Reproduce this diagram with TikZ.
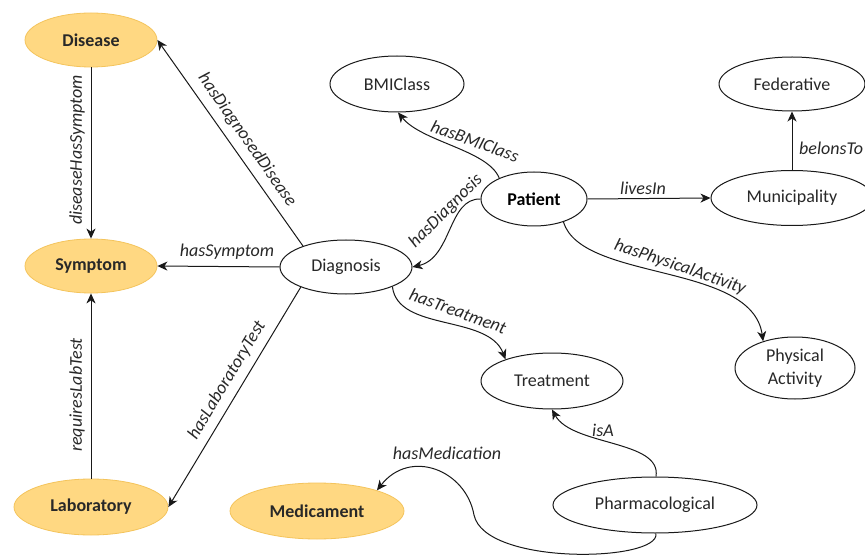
\documentclass[tikz,border=0pt]{standalone}
\usepackage{fontspec}
\setmainfont{Carlito}
\usetikzlibrary{shapes.geometric,arrows.meta}
\definecolor{orangefill}{RGB}{255,216,130}
\definecolor{orangeline}{RGB}{244,196,92}
\definecolor{nodetext}{RGB}{40,40,40}
\definecolor{edgeink}{RGB}{25,25,25}
\begin{document}
\begin{tikzpicture}[x=1pt,y=-1pt,
  cls/.style={ellipse, draw=edgeink, line width=1pt, fill=white, inner sep=0pt,
    font=\fontsize{18}{23}\selectfont, text=nodetext, align=center},
  ext/.style={ellipse, draw=orangeline, line width=0.8pt, fill=orangefill, inner sep=0pt,
    font=\fontsize{18}{23}\selectfont\bfseries, text=nodetext},
  rel/.style={draw=edgeink, line width=1pt, -{Stealth[length=10pt,width=9pt,inset=3pt]}},
  lbl/.style={font=\fontsize{18}{22}\selectfont\itshape, text=nodetext, inner sep=0pt}
]
\clip (0,0) rectangle (865,556);
\fill[white] (0,0) rectangle (865,556);

% classes
\node[ext, minimum width=132pt, minimum height=54pt] (dis)  at (91,40)   {Disease};
\node[ext, minimum width=132pt, minimum height=54pt] (sym)  at (91,266)  {Symptom};
\node[ext, minimum width=154pt, minimum height=56pt] (lab)  at (91,507)  {Laboratory};
\node[ext, minimum width=174pt, minimum height=56pt] (med)  at (317,511) {Medicament};
\node[cls, minimum width=132pt, minimum height=54pt] (diag) at (346,267) {Diagnosis};
\node[cls, minimum width=134pt, minimum height=56pt] (bmi)  at (397,84)  {BMIClass};
\node[cls, minimum width=106pt, minimum height=54pt, font=\fontsize{18}{23}\selectfont\bfseries, text=black] (pat) at (534,199) {Patient};
\node[cls, minimum width=162pt, minimum height=55pt] (mun)  at (792,198) {Municipality};
\node[cls, minimum width=146pt, minimum height=54pt] (fed)  at (792,84)  {Federative};
\node[cls, minimum width=120pt, minimum height=62pt] (pha)  at (795,368) {Physical\\Activity};
\node[cls, minimum width=142pt, minimum height=56pt] (trt)  at (552,381) {Treatment};
\node[cls, minimum width=204pt, minimum height=56pt] (phc)  at (655,505) {Pharmacological};

% straight relations
\draw[rel] (diag.154) -- (dis.east);
\draw[rel] (diag.west) -- (sym.east);
\draw[rel] (diag.204) -- (lab.east);
\draw[rel] (dis.south) -- (sym.north);
\draw[rel] (lab.north) -- (sym.south);
\draw[rel] (pat.east) -- (mun.west);
\draw[rel] (mun.north) -- (fed.south);

% curved relations
\draw[rel] (pat.149) .. controls (488,150) and (422,142) .. (bmi.-88);
\draw[rel] (pat.west) .. controls (448,198) and (452,258) .. (diag.east);
\draw[rel] (pat.-38) .. controls (582,282) and (752,262) .. (pha.140);
\draw[rel] (diag.-23) .. controls (398,332) and (488,314) .. (trt.155);
\draw[rel] (phc.88) .. controls (662,440) and (572,446) .. (trt.south);
\coordinate (medbend) at (474,515);
\draw[rel] (phc.-88) .. controls (660,562) and (485,566) .. (medbend)
  .. controls (466,470) and (410,448) .. (med.19);

% relation labels
\node[lbl, rotate=-55] (l1) at (247,140) {hasDiagnosedDisease};
\node[lbl] (l2) at (227,252) {hasSymptom};
\node[lbl, rotate=59] (l3) at (227,380) {hasLaboratoryTest};
\node[lbl, rotate=90] (l4) at (77,150) {diseaseHasSymptom};
\node[lbl, rotate=90] (l5) at (77,395) {requiresLabTest};
\node[lbl, rotate=-20] (l6) at (475,141) {hasBMIClass};
\node[lbl, rotate=45] (l7) at (446,211) {hasDiagnosis};
\node[lbl] (l8) at (643,188) {livesIn};
\node[lbl, anchor=west] (l9) at (799,148) {belonsTo};
\node[lbl, rotate=-19] (l10) at (680,267) {hasPhysicalActivity};
\node[lbl, rotate=-20] (l11) at (458,311) {hasTreatment};
\node[lbl] (l12) at (603,430) {isA};
\node[lbl] (l13) at (447,453) {hasMedication};
\end{tikzpicture}
\end{document}
